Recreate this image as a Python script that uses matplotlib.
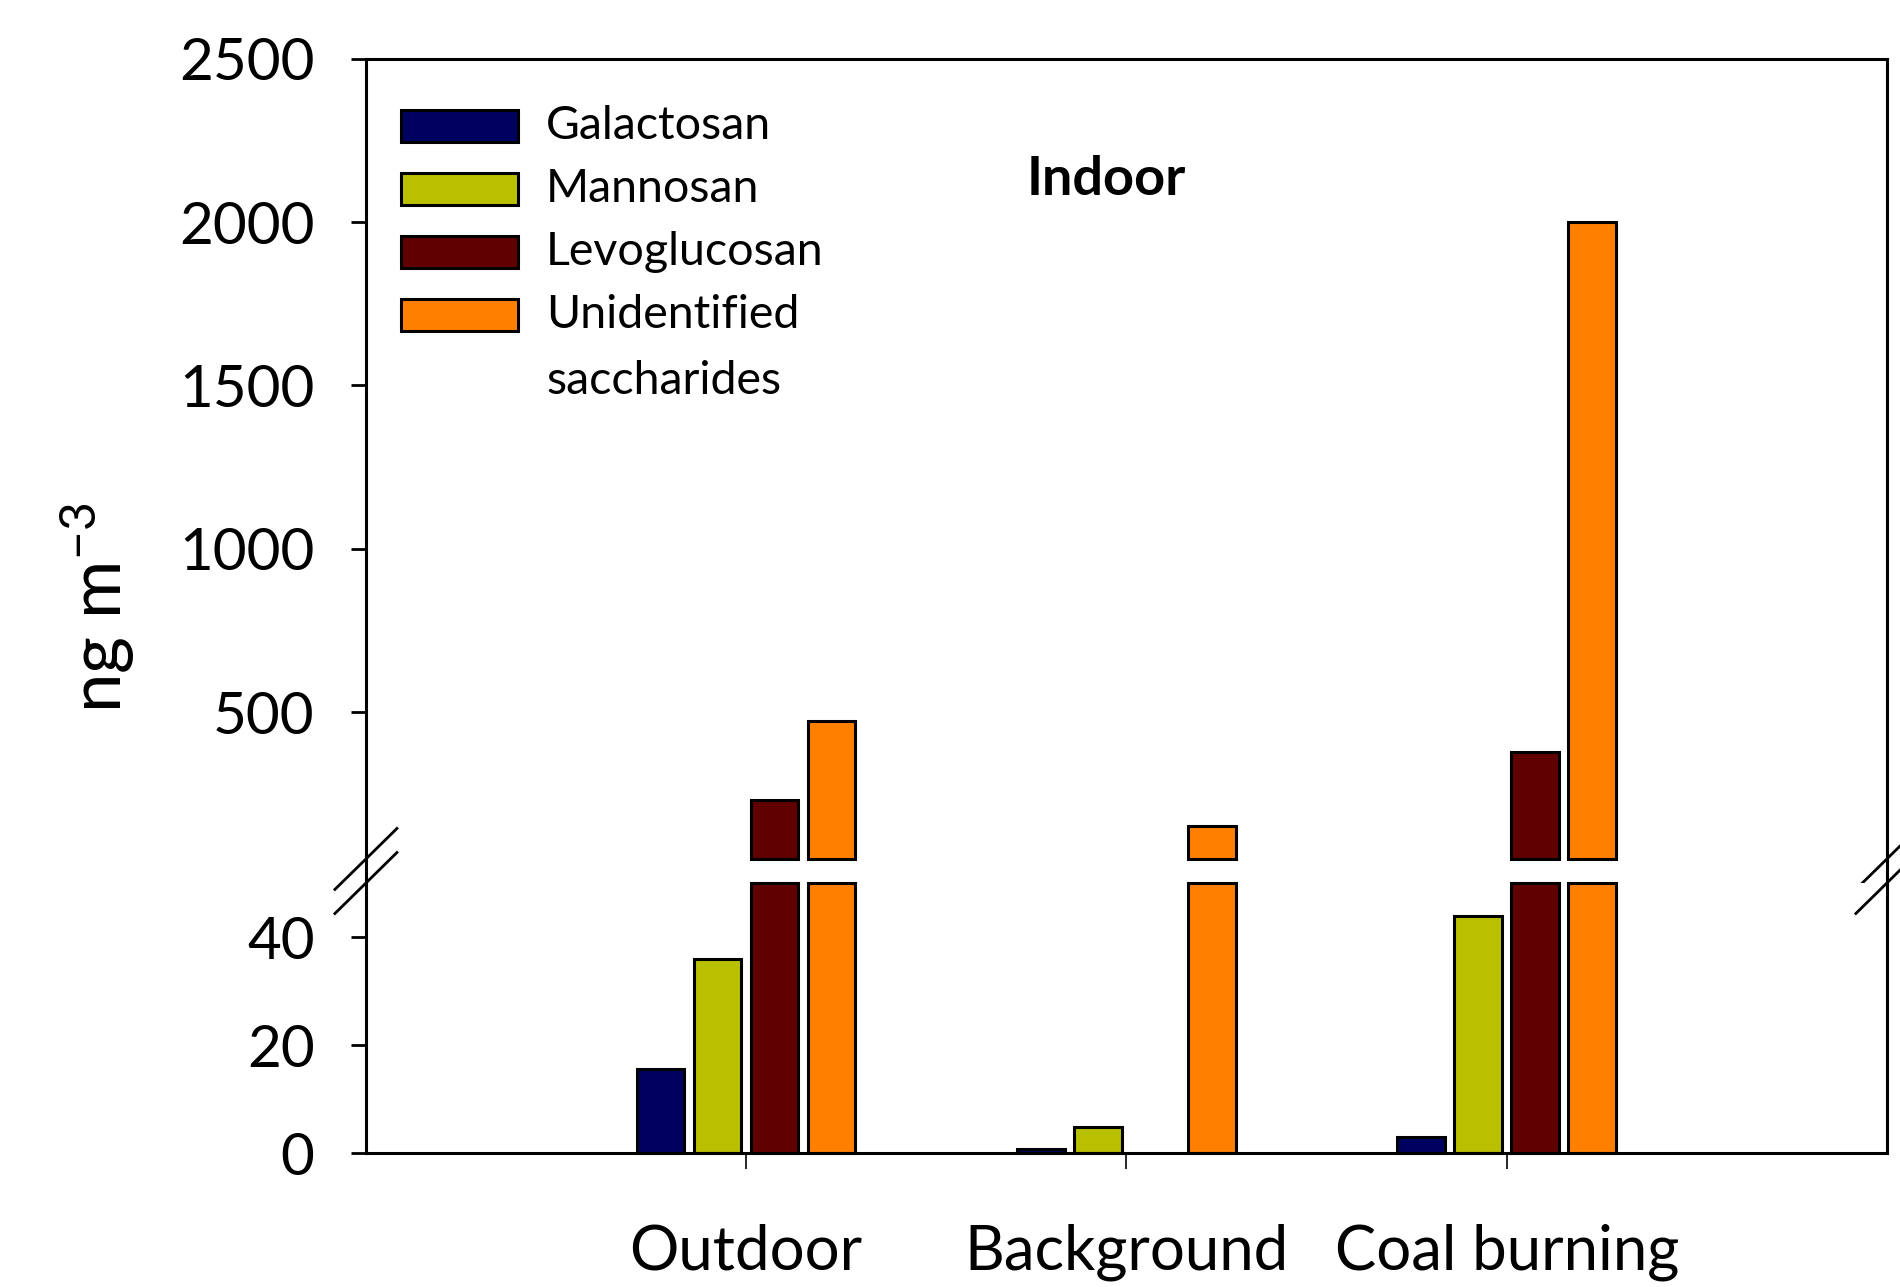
import matplotlib.pyplot as plt
from matplotlib.lines import Line2D
from matplotlib.patches import Rectangle
import numpy as np

plt.rcParams['font.family'] = ['Lato', 'DejaVu Sans']
plt.rcParams['mathtext.fontset'] = 'custom'
plt.rcParams['mathtext.rm'] = 'Lato'
plt.rcParams['mathtext.it'] = 'Lato:italic'
plt.rcParams['mathtext.bf'] = 'Lato:bold'

# concentrations, ng m-3
sites = ['Outdoor', 'Background', 'Coal burning']
species = ['Galactosan', 'Mannosan', 'Levoglucosan', 'Unidentified\nsaccharides']
colors = ['#000060', '#b9c000', '#600000', '#ff8000']
galactosan = [15.5, 0.8, 3.0]
mannosan = [35.9, 4.8, 43.9]
levoglucosan = [231, 0, 376]
unidentified = [472, 150, 2000]
values = [galactosan, mannosan, levoglucosan, unidentified]

brk = 50  # where the y axis is broken

fig = plt.figure(figsize=(19, 12.87), dpi=100)
left, width_ax = 0.1926, 0.8005
ax_top = fig.add_axes([left, 0.3326, width_ax, 0.6216])
ax_bot = fig.add_axes([left, 0.1041, width_ax, 0.2098])

x = np.arange(1, len(sites) + 1)
bw = 0.125
step = 0.15
for i, (vals, c) in enumerate(zip(values, colors)):
    v = np.array(vals, dtype=float)
    xi = x + (i - 1.5) * step
    low = v > 0
    ax_bot.bar(xi[low], np.minimum(v[low], brk), bw, color=c,
               edgecolor='black', linewidth=2.2, clip_on=False)
    high = v > brk
    ax_top.bar(xi[high], v[high] - brk, bw, bottom=brk, color=c,
               edgecolor='black', linewidth=2.2, clip_on=False)

for ax in (ax_top, ax_bot):
    ax.set_xlim(0, 4)
    for s in ax.spines.values():
        s.set_linewidth(2.2)
    ax.tick_params(axis='y', direction='out', length=11, width=2,
                   pad=26, labelsize=42)

ax_top.set_ylim(brk, 2500)
ax_top.set_yticks([500, 1000, 1500, 2000, 2500])
ax_top.spines['bottom'].set_visible(False)
ax_top.tick_params(axis='x', bottom=False, labelbottom=False)

ax_bot.set_ylim(0, brk)
ax_bot.set_yticks([0, 20, 40])
ax_bot.spines['top'].set_visible(False)
ax_bot.set_xticks(x)
ax_bot.set_xticklabels(sites)
ax_bot.tick_params(axis='x', direction='out', length=11.5, width=1.2,
                   pad=39, labelsize=44.5)

# keep the side spines running through the gap
for xs in (left, left + width_ax):
    fig.add_artist(Line2D([xs, xs], [0.3139, 0.3326], color='black',
                          linewidth=2.2, transform=fig.transFigure))

# break marks
dx = 0.0204
for ax, y0, dy in ((ax_top, 0, 0.0381), (ax_bot, 1, 0.113)):
    for x0 in (0, 1):
        ax.plot([x0 - dx, x0 + dx], [y0 - dy, y0 + dy], color='black',
                linewidth=2, transform=ax.transAxes, clip_on=False)

# legend
for i, (name, c) in enumerate(zip(species, colors)):
    yr = 0.916 - 0.0786 * i
    ax_top.add_patch(Rectangle((0.023, yr - 0.02), 0.077, 0.04,
                               facecolor=c, edgecolor='black', linewidth=2.2,
                               transform=ax_top.transAxes))
    for j, line in enumerate(name.split('\n')):
        ax_top.text(0.1185, yr - 0.083 * j, line, fontsize=33.5,
                    ha='left', va='center', transform=ax_top.transAxes)

ax_top.text(0.4865, 0.849, 'Indoor', fontsize=39, fontweight='bold',
            ha='center', va='center', transform=ax_top.transAxes)

fig.text(0.051, 0.528, 'ng m$^{-3}$', rotation=90, fontsize=51,
         ha='center', va='center')

fig.savefig('out.png', dpi=100)
